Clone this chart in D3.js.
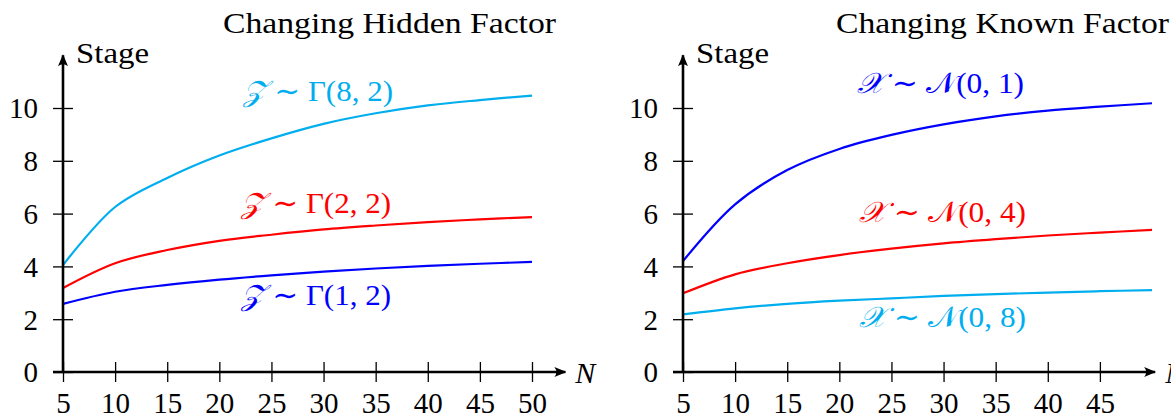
<!DOCTYPE html>
<html>
<head>
<meta charset="utf-8">
<script src="https://cdn.jsdelivr.net/npm/d3@7"></script>
<style>
body{margin:0;background:#fff}
text{font-family:"Liberation Serif","DejaVu Serif",serif;fill:#000}
</style>
</head>
<body>
<svg id="chart" width="1171" height="419"></svg>
<script>
// data
var nValues = [5,10,15,20,25,30,35,40,45,50]
var xTicksLeft = [5,10,15,20,25,30,35,40,45,50]
var xTicksRight = [5,10,15,20,25,30,35,40,45]
var yTicks = [0,2,4,6,8,10]

var hiddenGamma82 = [4.05,6.25,7.35,8.2,8.85,9.4,9.8,10.1,10.3,10.47]
var hiddenGamma22 = [3.18,4.12,4.62,4.97,5.2,5.4,5.55,5.68,5.78,5.87]
var hiddenGamma12 = [2.58,3.04,3.3,3.5,3.66,3.8,3.92,4.02,4.1,4.17]

var knownNormal01 = [4.2,6.35,7.65,8.45,8.98,9.38,9.68,9.9,10.05,10.18]
var knownNormal04 = [2.98,3.7,4.12,4.43,4.67,4.87,5.03,5.17,5.28,5.38]
var knownNormal08 = [2.18,2.41,2.58,2.7,2.79,2.88,2.95,3.01,3.06,3.1]

var CYAN = "#00aeef", RED = "#ff0000", BLUE = "#0000ff"

var svg = d3.select("#chart")

svg.append("defs").append("marker")
    .attr("id","arrow")
    .attr("viewBox","0 0 12 10")
    .attr("refX",11).attr("refY",5)
    .attr("markerWidth",12).attr("markerHeight",10)
    .attr("markerUnits","userSpaceOnUse")
    .attr("orient","auto")
    .append("path")
    .attr("d","M0,0 Q4,5 0,10 L12,5 Z")
    .attr("fill","#000")

function make_panel(opt){
    var x = d3.scaleLinear().domain([5,50]).range([opt.left, opt.left+469])
    var y = d3.scaleLinear().domain([0,10]).range([372,108])
    var g = svg.append("g")

    // curves
    var line = d3.line()
        .x(function(d){ return x(d[0]) })
        .y(function(d){ return y(d[1]) })
        .curve(d3.curveCatmullRom.alpha(0.5))
    opt.series.forEach(function(s){
        g.append("path")
            .datum(nValues.map(function(n,i){ return [n, s.values[i]] }))
            .attr("d", line)
            .attr("fill","none")
            .attr("stroke", s.color)
            .attr("stroke-width",2.2)
    })

    // x axis
    var xa = g.append("g").attr("transform","translate(0,372)")
        .call(d3.axisBottom(x).tickValues(opt.xTicks).tickSize(10).tickFormat(d3.format("d")))
    xa.select(".domain").remove()
    xa.selectAll(".tick line").attr("y1",-10).attr("y2",10).attr("stroke-width",1.3)
    xa.selectAll(".tick text").attr("y",41).attr("dy",null)
        .style("font-size","29px").style("font-family","'Liberation Serif',serif").attr("fill","#000")

    // y axis
    var ya = g.append("g").attr("transform","translate("+opt.left+",0)")
        .call(d3.axisLeft(y).tickValues(yTicks).tickSize(10).tickFormat(d3.format("d")))
    ya.select(".domain").remove()
    ya.selectAll(".tick line").attr("x1",-10).attr("x2",10).attr("stroke-width",1.3)
    ya.selectAll(".tick text").attr("x",-25).attr("dy","0.34em")
        .style("font-size","29px").style("font-family","'Liberation Serif',serif").attr("fill","#000")

    g.append("line")
        .attr("x1", opt.left-10).attr("x2", x(opt.xEnd))
        .attr("y1", y(0)).attr("y2", y(0))
        .attr("stroke","#000").attr("stroke-width",2.4)
        .attr("marker-end","url(#arrow)")
    g.append("line")
        .attr("x1", opt.left).attr("x2", opt.left)
        .attr("y1", y(0)+1).attr("y2", y(12))
        .attr("stroke","#000").attr("stroke-width",2.6)
        .attr("marker-end","url(#arrow)")

    g.append("text").attr("x", opt.left+13).attr("y",63)
        .attr("textLength",73).attr("lengthAdjust","spacingAndGlyphs")
        .style("font-size","29px").text("Stage")
    g.append("text").attr("x", x(opt.xEnd)+10).attr("y",383)
        .style("font-size","30px").style("font-style","italic").text("N")
    g.append("text").attr("x", opt.titleStart).attr("y",33)
        .attr("textLength",333).attr("lengthAdjust","spacingAndGlyphs")
        .style("font-size","30px").text(opt.title)

    opt.series.forEach(function(s){
        var t = g.append("text").attr("x", s.labelX).attr("y", s.labelY)
            .attr("textLength", opt.labelW).attr("lengthAdjust","spacingAndGlyphs")
            .style("font-size","29px").attr("fill", s.color)
        t.append("tspan").style("font-style","italic").attr("fill", s.color).text(s.sym)
        t.append("tspan").attr("fill", s.color).text(" \u223c " + s.dist)
    })
}

make_panel({
    left: 63, xTicks: xTicksLeft, xEnd: 53.2,
    title: "Changing Hidden Factor", titleStart: 223, labelW: 150,
    series: [
        {values: hiddenGamma82, color: CYAN, sym: "\ud835\udcb5", dist: "\u0393(8, 2)", labelX: 243, labelY: 101},
        {values: hiddenGamma22, color: RED, sym: "\ud835\udcb5", dist: "\u0393(2, 2)", labelX: 241, labelY: 213},
        {values: hiddenGamma12, color: BLUE, sym: "\ud835\udcb5", dist: "\u0393(1, 2)", labelX: 241, labelY: 305}
    ]
})

make_panel({
    left: 683, xTicks: xTicksRight, xEnd: 50.3,
    title: "Changing Known Factor", titleStart: 836, labelW: 167,
    series: [
        {values: knownNormal01, color: BLUE, sym: "\ud835\udcb3", dist: "\ud835\udca9(0, 1)", labelX: 857, labelY: 93},
        {values: knownNormal04, color: RED, sym: "\ud835\udcb3", dist: "\ud835\udca9(0, 4)", labelX: 859, labelY: 222},
        {values: knownNormal08, color: CYAN, sym: "\ud835\udcb3", dist: "\ud835\udca9(0, 8)", labelX: 859, labelY: 327}
    ]
})
</script>
</body>
</html>
